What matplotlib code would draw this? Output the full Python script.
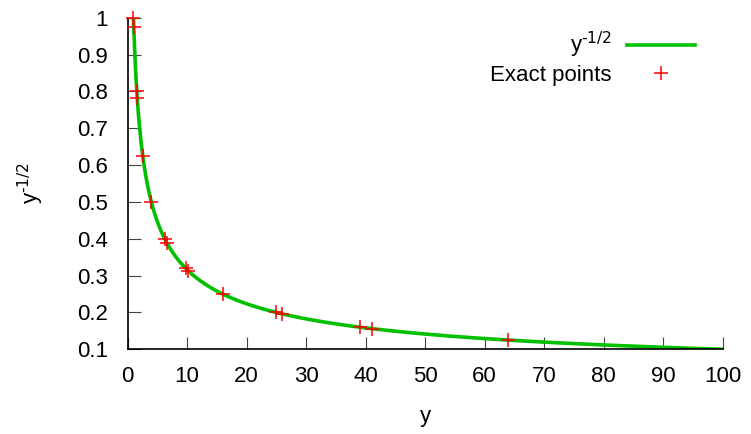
import numpy as np
import matplotlib
matplotlib.use("Agg")
import matplotlib.pyplot as plt

plt.rcParams['font.family'] = ['Liberation Sans', 'DejaVu Sans']
plt.rcParams['mathtext.default'] = 'regular'

# Exact points
pts_x = [1.0, 1.05, 1.5625, 1.64, 2.56, 4.0, 6.25, 6.6, 9.77, 10.2, 16.0, 25.0, 26.0, 39.06, 41.0, 64.0]
pts_y = [1.0, 0.976, 0.8, 0.781, 0.625, 0.5, 0.4, 0.389, 0.32, 0.313, 0.25, 0.2, 0.196, 0.16, 0.156, 0.125]

x_ticks = [0, 10, 20, 30, 40, 50, 60, 70, 80, 90, 100]
y_ticks = [0.1, 0.2, 0.3, 0.4, 0.5, 0.6, 0.7, 0.8, 0.9, 1.0]
y_ticklabels = ['0.1', '0.2', '0.3', '0.4', '0.5', '0.6', '0.7', '0.8', '0.9', '1']

W, H = 751, 434
fig = plt.figure(figsize=(W / 100, H / 100), dpi=100)
L, R, T, B = 127.5, 722.7, 17.7, 349.3
ax = fig.add_axes([L / W, 1 - B / H, (R - L) / W, (B - T) / H])

label_curve = r'$y^{\text{-1/2}}$'

xc = np.linspace(1, 100, 600)
ax.plot(xc, xc ** -0.5, color='#00c000', lw=2.6, label=label_curve, zorder=2)
ax.plot(pts_x, pts_y, linestyle='none', marker='+', color='#ff0000', ms=10, mew=1.1,
        label='Exact points', zorder=3, clip_on=False)

ax.set_xlim(0, 100)
ax.set_ylim(0.1, 1.0)
ax.set_xticks(x_ticks)
ax.set_yticks(y_ticks)
ax.set_yticklabels(y_ticklabels)
for s in ['top', 'right']:
    ax.spines[s].set_visible(False)
for s in ['left', 'bottom']:
    ax.spines[s].set_linewidth(1.2)
ax.tick_params(direction='in', length=9, width=0.8, color='#444444', labelsize=16, labelcolor='black')
ax.tick_params(axis='x', pad=12)
ax.tick_params(axis='y', pad=14)

ax.set_xlabel('y', fontsize=16, labelpad=14)
ax.set_ylabel(label_curve, fontsize=16)
ax.yaxis.set_label_coords(-0.137, 0.5)

leg = ax.legend(loc='upper right', bbox_to_anchor=(695 / W, 1 - 30 / H), bbox_transform=fig.transFigure,
                frameon=False, markerfirst=False, fontsize=16, handlelength=3.06, handletextpad=0.68,
                borderpad=0, borderaxespad=0, labelspacing=0.2)

fig.savefig('out.png', dpi=100)
